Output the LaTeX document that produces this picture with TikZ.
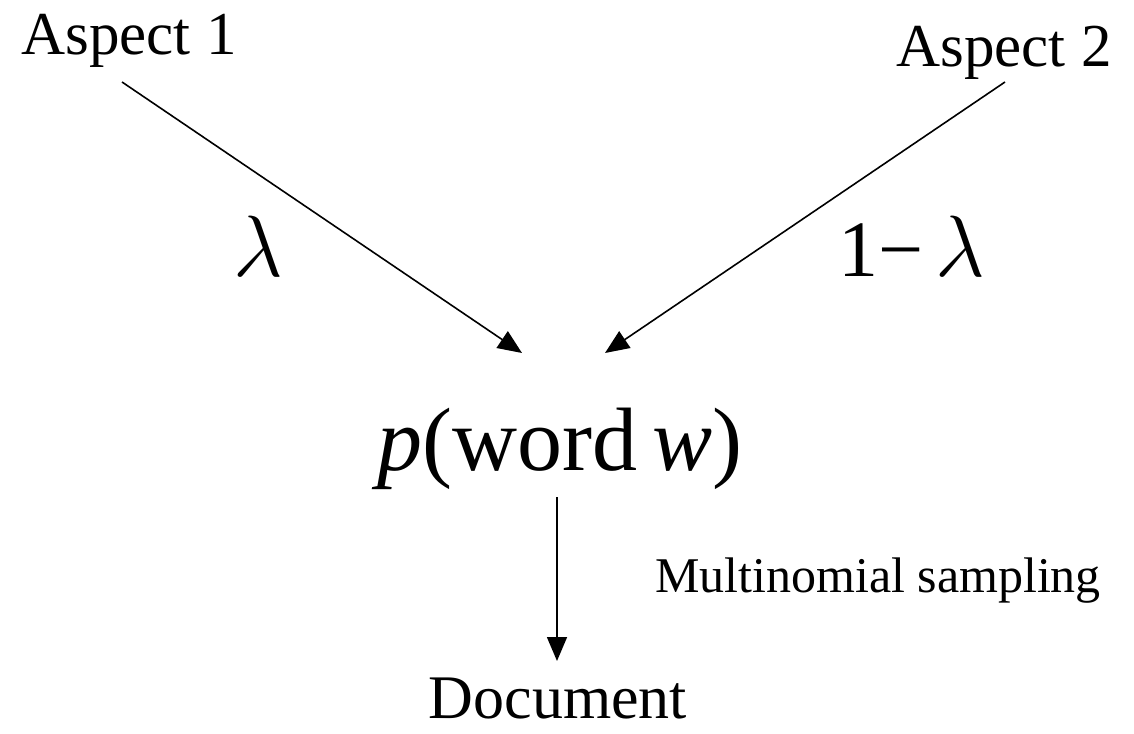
\documentclass[tikz,border=0pt]{standalone}
\usepackage{fontspec}
\setmainfont{Liberation Serif}
\usetikzlibrary{arrows.meta}
\tikzset{
  lbl/.style={inner sep=0pt, anchor=base},
  conn/.style={line width=1.6pt, -{Triangle[length=24pt,width=20pt]}}
}
\newcommand{\biglam}{\scalebox{3.5}{\Huge$\lambda$}}
\begin{document}
\begin{tikzpicture}[x=1pt,y=-1pt]
\useasboundingbox (0,0) rectangle (1134,733);
\node[lbl] (a1) at (129,55) {\fontsize{61}{70}\selectfont Aspect 1};
\node[lbl] (a2) at (1004,67) {\fontsize{61}{70}\selectfont Aspect 2};
\node[lbl] (lam) at (258,276) {\biglam};
\node[lbl] (oml) at (912,276) {\fontsize{80}{100}\selectfont 1−\hspace{12pt}\biglam};
\node[lbl] (pw) at (560,470) {\fontsize{90}{100}\selectfont \textit{p}(word\,\textit{w})};
\node[lbl] (ms) at (878,592) {\fontsize{50}{60}\selectfont Multinomial sampling};
\node[lbl] (doc) at (558,718) {\fontsize{62}{70}\selectfont Document};
\coordinate (s1) at (122,82);
\coordinate (e1) at (522,353);
\coordinate (s2) at (1005,82);
\coordinate (e2) at (605,353);
\coordinate (s3) at (557,497);
\coordinate (e3) at (557,661);
\draw[conn] (s1) -- (e1);
\draw[conn] (s2) -- (e2);
\draw[conn] (s3) -- (e3);
\end{tikzpicture}
\end{document}
